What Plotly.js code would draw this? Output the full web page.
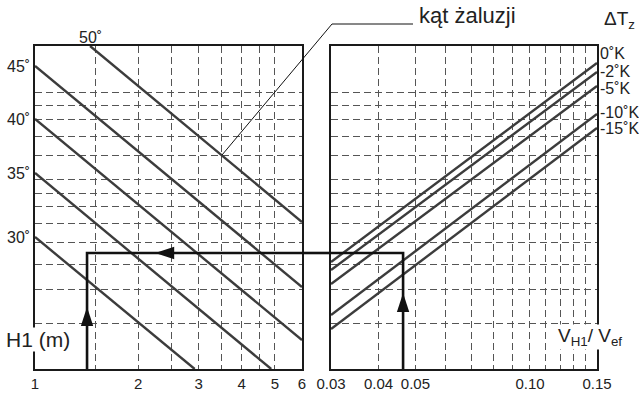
<!DOCTYPE html>
<html>
<head>
<meta charset="utf-8">
<script src="https://cdn.plot.ly/plotly-3.0.1.min.js"></script>
<style>html,body{margin:0;padding:0;background:#fff;}#chart{width:639px;height:394px;}</style>
</head>
<body>
<div id="chart"></div>
<script>
// ---------- data ----------
// left panel: H1 (m), louvre angle lines (relative vertical units, 0 = bottom)
const angleLabels = ['30˚', '35˚', '40˚', '45˚', '50˚'];
const angleX0 = [1, 1, 1, 1, 1.447];
const angleY0 = [132, 196, 250, 303, 323];
const angleX1 = [2.92, 4.88, 6, 6, 6];
const angleY1 = [0, 0, 29, 82, 147];

// right panel: V_H1 / V_ef, temperature difference lines
const dtLabels = ['0˚K', '-2˚K', '-5˚K', '-10˚K', '-15˚K'];
const dtX0 = [0.03, 0.03, 0.03, 0.03, 0.03];
const dtY0 = [107, 99, 85, 54, 40];
const dtX1 = [0.15, 0.15, 0.15, 0.15, 0.15];
const dtY1 = [306, 297, 283, 255, 241];

// worked example path
const exH1 = 1.418;       // H1 read on left panel
const exRatio = 0.0464;   // V_H1/V_ef on right panel
const exLevel = 116;      // common level
const exArrowLeftY = 62;  // arrow tip level on left vertical
const exArrowRightY = 76; // arrow tip level on right vertical
const exArrowMidX = 2.24; // arrow tip on horizontal segment

// axis ticks
const leftTickVals = [1, 2, 3, 4, 5, 6];
const leftTickText = ['1', '2', '3', '4', '5', '6'];
const leftMinorVals = [1.5, 2.5, 3.5, 4.5];
const rightTickVals = [0.03, 0.04, 0.05, 0.10, 0.15];
const rightTickText = ['0.03', '0.04', '0.05', '0.10', '0.15'];
const rightMinorVals = [0.06, 0.07, 0.08, 0.09, 0.11, 0.12, 0.13, 0.14];
const gridLevels = [46, 80, 105, 127, 146, 163, 176, 190, 214, 233, 250, 264, 277];

// ---------- styles ----------
const FONT = 'Liberation Sans, Arial, sans-serif';
const lineColor = '#3c3c3c';
const pathColor = '#111';
const frameColor = '#1a1a1a';
const gridColor = '#555';
const W = 639, H = 394, ML = 35, MR = 42, MT = 46, MB = 25;
const plotW = W - ML - MR, plotH = H - MT - MB;
const dom1 = [0, (302 - ML) / plotW];
const dom2 = [(331 - ML) / plotW, 1];
const px = (x) => (x - ML) / plotW;
const py = (y) => (H - MB - y) / plotH;

const traces = [];
for (let i = 0; i < angleLabels.length; i++) {
  traces.push({
    x: [angleX0[i], angleX1[i]], y: [angleY0[i], angleY1[i]],
    xaxis: 'x', yaxis: 'y', mode: 'lines',
    line: {color: lineColor, width: 2.4}, hoverinfo: 'skip'
  });
}
for (let i = 0; i < dtLabels.length; i++) {
  traces.push({
    x: [dtX0[i], dtX1[i]], y: [dtY0[i], dtY1[i]],
    xaxis: 'x2', yaxis: 'y2', mode: 'lines',
    line: {color: lineColor, width: 2.4}, hoverinfo: 'skip'
  });
}
// example path
traces.push({
  x: [exH1, exH1, 6], y: [0, exLevel, exLevel],
  xaxis: 'x', yaxis: 'y', mode: 'lines',
  line: {color: pathColor, width: 2.6}, hoverinfo: 'skip'
});
traces.push({
  x: [0.03, exRatio, exRatio], y: [exLevel, exLevel, 0],
  xaxis: 'x2', yaxis: 'y2', mode: 'lines',
  line: {color: pathColor, width: 2.6}, hoverinfo: 'skip'
});
// arrow heads
traces.push({
  x: [exH1, exArrowMidX], y: [exArrowLeftY, exLevel],
  xaxis: 'x', yaxis: 'y', mode: 'markers', cliponaxis: false,
  marker: {symbol: 'arrow', size: 20, angle: [0, -90], color: pathColor, line: {width: 0}},
  hoverinfo: 'skip'
});
traces.push({
  x: [exRatio], y: [exArrowRightY],
  xaxis: 'x2', yaxis: 'y2', mode: 'markers', cliponaxis: false,
  marker: {symbol: 'arrow', size: 20, angle: [0], color: pathColor, line: {width: 0}},
  hoverinfo: 'skip'
});

const gridStyle = {
  showgrid: true, gridcolor: gridColor, gridwidth: 1, griddash: '7px,4px',
  zeroline: false, showline: true, mirror: true, linecolor: frameColor, linewidth: 2,
  ticks: '', tickfont: {family: FONT, size: 15, color: '#222'}
};
const minorStyle = (vals) => ({tickvals: vals, ticks: '', showgrid: true,
  gridcolor: gridColor, gridwidth: 1, griddash: '7px,4px'});

const annotations = [];
// angle labels
for (let i = 0; i < angleLabels.length; i++) {
  if (angleX0[i] <= 1) {
    annotations.push({xref: 'paper', x: 0, xanchor: 'right', xshift: -3,
      yref: 'y', y: angleY0[i], yanchor: 'middle',
      text: angleLabels[i], showarrow: false, font: {family: FONT, size: 16, color: '#222'}});
  } else {
    annotations.push({xref: 'x', x: Math.log10(angleX0[i]), xanchor: 'center',
      yref: 'paper', y: 1, yanchor: 'bottom', yshift: -2,
      text: angleLabels[i], showarrow: false, font: {family: FONT, size: 16, color: '#222'}});
  }
}
// delta T labels
const dtLabelShift = [10, 1, -2, 2, 0];
for (let i = 0; i < dtLabels.length; i++) {
  annotations.push({xref: 'paper', x: 1, xanchor: 'left', xshift: 1,
    yref: 'y2', y: dtY1[i], yanchor: 'middle', yshift: dtLabelShift[i],
    text: dtLabels[i], showarrow: false, font: {family: FONT, size: 16, color: '#222'}});
}
annotations.push({xref: 'paper', x: px(417), xanchor: 'left', yref: 'paper', y: py(15), yanchor: 'middle',
  text: 'kąt żaluzji', showarrow: false, font: {family: FONT, size: 22, color: '#222'}});
annotations.push({xref: 'paper', x: px(602), xanchor: 'left', yref: 'paper', y: py(20), yanchor: 'middle',
  text: 'ΔT<sub>z</sub>', showarrow: false, font: {family: FONT, size: 19, color: '#222'}});
annotations.push({xref: 'paper', x: px(5), xanchor: 'left', yref: 'paper', y: py(339), yanchor: 'middle',
  text: 'H1 (m)', showarrow: false, bgcolor: '#fff', borderpad: 0,
  font: {family: FONT, size: 21, color: '#222'}});
annotations.push({xref: 'paper', x: px(590), xanchor: 'center', yref: 'paper', y: py(337), yanchor: 'middle',
  text: 'V<sub>H1</sub>/ V<sub>ef</sub>', showarrow: false, bgcolor: '#fff', borderpad: 0,
  font: {family: FONT, size: 19, color: '#222'}});

const shapes = [
  {type: 'line', xref: 'paper', x0: dom1[1], x1: dom2[0], yref: 'y', y0: exLevel, y1: exLevel,
   line: {color: pathColor, width: 2.6}},
  {type: 'path', xref: 'paper', yref: 'paper',
   path: 'M' + px(222) + ',' + py(155) + ' L' + px(332) + ',' + py(24) + ' L' + px(413) + ',' + py(24),
   line: {color: '#111', width: 1}}
];

const layout = {
  width: W, height: H,
  margin: {l: ML, r: MR, t: MT, b: MB, pad: 0},
  paper_bgcolor: '#fff', plot_bgcolor: '#fff',
  showlegend: false,
  font: {family: FONT, color: '#222'},
  xaxis: Object.assign({}, gridStyle, {type: 'log', domain: dom1, anchor: 'y',
    range: [0, Math.log10(6)], tickvals: leftTickVals, ticktext: leftTickText,
    minor: minorStyle(leftMinorVals)}),
  xaxis2: Object.assign({}, gridStyle, {type: 'log', domain: dom2, anchor: 'y2',
    range: [Math.log10(0.03), Math.log10(0.15)], tickvals: rightTickVals, ticktext: rightTickText,
    minor: minorStyle(rightMinorVals)}),
  yaxis: Object.assign({}, gridStyle, {anchor: 'x', domain: [0, 1], range: [0, 323],
    tickvals: gridLevels, showticklabels: false}),
  yaxis2: Object.assign({}, gridStyle, {anchor: 'x2', domain: [0, 1], range: [0, 323],
    tickvals: gridLevels, showticklabels: false}),
  annotations: annotations,
  shapes: shapes
};

Plotly.newPlot('chart', traces, layout, {staticPlot: true, displayModeBar: false});
</script>
</body>
</html>
